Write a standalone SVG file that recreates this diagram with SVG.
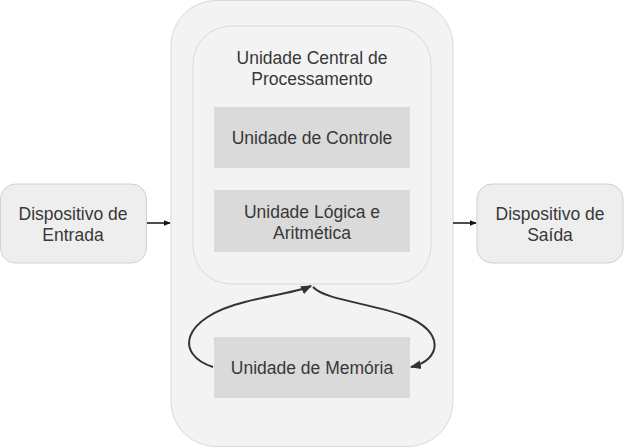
<svg xmlns="http://www.w3.org/2000/svg" width="624" height="448" viewBox="0 0 624 448">
<style>
text{font-family:"Liberation Sans",Arial,sans-serif;font-size:17.5px;fill:#383838;text-anchor:middle}
.dev{fill:#eeeeee;stroke:#d0d0d0;stroke-width:1}
.cont{fill:#f3f3f3;stroke:#d9d9d9;stroke-width:1}
.unit{fill:#dadada;stroke:none}
.con{fill:none;stroke:#111;stroke-width:1.5}
.curve{fill:none;stroke:#333;stroke-width:2}
</style>
<defs>
<marker id="ah" viewBox="0 0 10 10" refX="9" refY="5" markerWidth="7" markerHeight="7" markerUnits="userSpaceOnUse" orient="auto"><path d="M0,1 L10,5 L0,9 Z" fill="#111"/></marker>
<marker id="ah2" viewBox="0 0 10 10" refX="9" refY="5" markerWidth="11" markerHeight="11" markerUnits="userSpaceOnUse" orient="auto"><path d="M0,1 L10,5 L0,9 Z" fill="#333"/></marker>
</defs>
<g id="main">
<rect class="cont" x="171" y="0.5" width="282" height="446" rx="45"/>
</g>
<g id="cpu">
<rect class="cont" x="193" y="26" width="238" height="258" rx="38"/>
<text x="312" y="64">Unidade Central de</text>
<text x="312" y="85">Processamento</text>
</g>
<g id="controle">
<rect class="unit" x="214" y="107" width="196" height="61"/>
<text x="312" y="144">Unidade de Controle</text>
</g>
<g id="ula">
<rect class="unit" x="214" y="190" width="196" height="62"/>
<text x="312" y="218">Unidade Lógica e</text>
<text x="312" y="239">Aritmética</text>
</g>
<g id="memoria">
<rect class="unit" x="214" y="337" width="196" height="61"/>
<text x="312" y="374">Unidade de Memória</text>
</g>
<g id="entrada">
<rect class="dev" x="0.5" y="184" width="146" height="79" rx="15"/>
<text x="73" y="220">Dispositivo de</text>
<text x="73" y="241">Entrada</text>
</g>
<g id="saida">
<rect class="dev" x="477" y="184" width="146" height="79" rx="15"/>
<text x="550" y="220">Dispositivo de</text>
<text x="550" y="241">Saída</text>
</g>
<g id="connectors">
<line class="con" x1="147" y1="223" x2="170" y2="223" marker-end="url(#ah)"/>
<line class="con" x1="453" y1="223" x2="476" y2="223" marker-end="url(#ah)"/>
<path class="curve" d="M213,367 C175,355 180,318 245,302 C275,294 298,292 311,286" marker-end="url(#ah2)"/>
<path class="curve" d="M313,287 C325,300 370,303 405,316 C445,331 442,360 411,367" marker-end="url(#ah2)"/>
</g>
</svg>
